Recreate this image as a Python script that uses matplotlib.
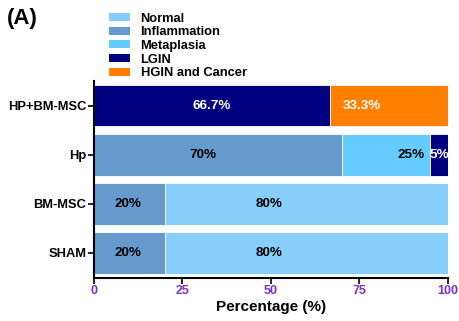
import matplotlib
matplotlib.use("Agg")
import matplotlib.pyplot as plt
from matplotlib.patches import Patch

plt.rcParams['font.family'] = ['Liberation Sans', 'DejaVu Sans']

groups = ["SHAM", "BM-MSC", "Hp", "HP+BM-MSC"]
inflammation = [20, 20, 70, 0]
normal = [80, 80, 0, 0]
metaplasia = [0, 0, 25, 0]
lgin = [0, 0, 5, 66.7]
hgin_cancer = [0, 0, 0, 33.3]

legend_order = ["Normal", "Inflammation", "Metaplasia", "LGIN", "HGIN and Cancer"]
colors = {
    "Normal": "#87CEFA",
    "Inflammation": "#6699CC",
    "Metaplasia": "#66CCFF",
    "LGIN": "#000080",
    "HGIN and Cancer": "#FF8000",
}
xticks = [0, 25, 50, 75, 100]

fig = plt.figure(figsize=(4.6, 3.21), dpi=100)
ax = fig.add_axes([0.204, 0.1355, 0.770, 0.611])

stack = [
    ("Inflammation", inflammation),
    ("Normal", normal),
    ("Metaplasia", metaplasia),
    ("LGIN", lgin),
    ("HGIN and Cancer", hgin_cancer),
]
ypos = list(range(len(groups)))
left = [0.0] * len(groups)
segments = {}
for name, vals in stack:
    ax.barh(ypos, vals, left=left, height=0.84, color=colors[name],
            edgecolor="white", linewidth=0.6)
    for i, v in enumerate(vals):
        if v > 0:
            segments[(i, name)] = (left[i], v)
    left = [l + v for l, v in zip(left, vals)]

# value labels: (group index, segment, text colour, horizontal offset within segment)
label_specs = [
    (0, "Inflammation", "black", 0.48),
    (0, "Normal", "black", 0.37),
    (1, "Inflammation", "black", 0.48),
    (1, "Normal", "black", 0.37),
    (2, "Inflammation", "black", 0.44),
    (2, "Metaplasia", "black", 0.78),
    (2, "LGIN", "white", 0.5),
    (3, "LGIN", "white", 0.5),
    (3, "HGIN and Cancer", "white", 0.27),
]
for i, name, tc, frac in label_specs:
    start, width = segments[(i, name)]
    txt = f"{width:g}%"
    ax.text(start + width * frac, i, txt, ha="center", va="center",
            color=tc, fontsize=9.7, fontweight="bold")

ax.set_xlim(0, 100)
ax.set_ylim(-0.5, 3.5)
ax.set_yticks(ypos)
ax.set_yticklabels(groups, fontsize=9.3, fontweight="bold")
ax.set_xticks(xticks)
ax.set_xticklabels([str(t) for t in xticks], fontsize=9, fontweight="bold",
                   color="#7B2FBE")
ax.set_xlabel("Percentage (%)", fontsize=11, fontweight="bold", labelpad=2)

for s in ["top", "right"]:
    ax.spines[s].set_visible(False)
for s in ["left", "bottom"]:
    ax.spines[s].set_linewidth(1.5)
ax.tick_params(axis="both", direction="out", width=1.2, length=4, pad=1.5)

handles = [Patch(facecolor=colors[n], edgecolor="none") for n in legend_order]
fig.legend(handles, legend_order, loc="upper left", bbox_to_anchor=(0.22, 0.985),
           frameon=False, prop={"size": 9.3, "weight": "bold"},
           handlelength=1.6, handleheight=0.55, handletextpad=0.85,
           labelspacing=0.13, borderaxespad=0.2)

fig.text(0.015, 0.943, "(A)", fontsize=16, fontweight="bold", va="center")

fig.savefig("out.png", dpi=100)
